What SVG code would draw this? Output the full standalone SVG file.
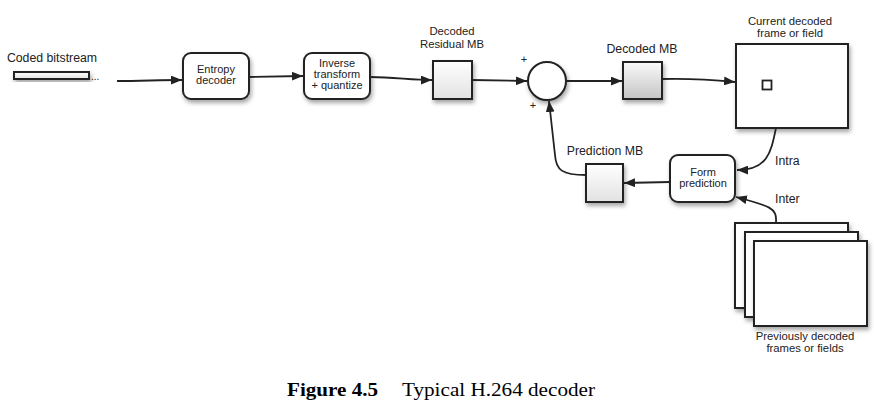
<svg xmlns="http://www.w3.org/2000/svg" width="874" height="419" viewBox="0 0 874 419">
<defs>
<style>
.lbl{font-family:"Liberation Sans",Arial,sans-serif;font-size:12.3px;fill:#222;text-anchor:middle}
.lbl2{font-family:"Liberation Sans",Arial,sans-serif;font-size:11.3px;fill:#222;text-anchor:middle}
.in{font-family:"Liberation Sans",Arial,sans-serif;font-size:11px;fill:#222;text-anchor:middle}
.box{fill:#fff;stroke:#222;stroke-width:2;filter:url(#sh)}
.con{fill:none;stroke:#222;stroke-width:1.8;marker-end:url(#ah)}
.cap{font-family:"Liberation Serif","Times New Roman",serif;font-size:18px;fill:#000}
</style>
<filter id="sh" x="-20%" y="-20%" width="150%" height="150%">
<feDropShadow dx="1.5" dy="3" stdDeviation="2" flood-color="#000" flood-opacity="0.35"/>
</filter>
<linearGradient id="g1" x1="0" y1="0" x2="0" y2="1">
<stop offset="0" stop-color="#fff"/><stop offset="1" stop-color="#e2e2e2"/>
</linearGradient>
<linearGradient id="g2" x1="0" y1="0" x2="0" y2="1">
<stop offset="0" stop-color="#fafafa"/><stop offset="1" stop-color="#c4c4c4"/>
</linearGradient>
<marker id="ah" viewBox="0 0 10 8" refX="10" refY="4" markerWidth="11" markerHeight="9" markerUnits="userSpaceOnUse" orient="auto">
<path d="M0,0 L10,4 L0,8 Z" fill="#222"/>
</marker>
</defs>
<rect width="874" height="419" fill="#fff"/>

<g id="bitstream">
<text class="lbl" x="52" y="62">Coded bitstream</text>
<rect class="box" x="14" y="72" width="75" height="7" style="fill:url(#g1)"/>
<text x="91" y="80" style="font-family:'Liberation Sans',Arial,sans-serif;font-size:10px;fill:#222">...</text>
</g>

<g id="entropy">
<rect class="box" x="183" y="53" width="66" height="46" rx="8"/>
<text class="in" x="216" y="73">Entropy</text>
<text class="in" x="216" y="84">decoder</text>
</g>

<g id="inverse">
<rect class="box" x="304" y="53" width="66" height="46" rx="8"/>
<text class="in" x="337" y="67">Inverse</text>
<text class="in" x="337" y="78">transform</text>
<text class="in" x="337" y="89">+ quantize</text>
</g>

<g id="residual">
<text class="lbl2" x="452" y="35">Decoded</text>
<text class="lbl2" x="452" y="47.5">Residual MB</text>
<rect class="box" x="433" y="61" width="39" height="38" style="fill:url(#g1)"/>
</g>

<g id="sum">
<circle class="box" cx="547" cy="81" r="19"/>
<text x="524" y="63" class="in">+</text>
<text x="533" y="109" class="in">+</text>
</g>

<g id="decodedmb">
<text class="lbl" x="642" y="53">Decoded MB</text>
<rect class="box" x="623" y="62" width="39" height="37" style="fill:url(#g2)"/>
</g>

<g id="current">
<text class="lbl2" x="790" y="24.5">Current decoded</text>
<text class="lbl2" x="790" y="37">frame or field</text>
<rect class="box" x="736" y="44" width="112" height="84"/>
<rect x="762.5" y="80.5" width="9" height="9" fill="#fff" stroke="#222" stroke-width="1.8"/>
</g>

<g id="form">
<rect class="box" x="670" y="155" width="65" height="47" rx="8"/>
<text class="in" x="703" y="176">Form</text>
<text class="in" x="703" y="187">prediction</text>
</g>

<g id="predmb">
<text class="lbl" x="605" y="155">Prediction MB</text>
<rect class="box" x="586" y="164" width="37" height="38" style="fill:url(#g1)"/>
</g>

<g id="previous">
<rect class="box" x="735" y="223" width="113" height="85"/>
<rect class="box" x="745" y="232" width="113" height="85"/>
<rect class="box" x="754" y="241" width="113" height="85"/>
<text class="lbl2" x="805" y="339.5">Previously decoded</text>
<text class="lbl2" x="805" y="352">frames or fields</text>
</g>

<g id="connectors">
<path class="con" d="M117,81 C140,81 160,80 182,80"/>
<path class="con" d="M249,77 L303,76"/>
<path class="con" d="M370,77 C395,77 410,80 432,80"/>
<path class="con" d="M472,80 L527,81"/>
<path class="con" d="M566,81 L622,81"/>
<path class="con" d="M662,79 C695,78 715,80 735,82"/>
<path class="con" d="M776,128 C771,152 768,170 737,170"/>
<path class="con" d="M670,182 L624,183"/>
<path class="con" d="M586,175 C562,175 556,170 555,155 L549,101"/>
<path class="con" d="M776,222 C777,208 770,206 736,197"/>
<text class="lbl" x="775" y="165" style="text-anchor:start">Intra</text>
<text class="lbl" x="775" y="203" style="text-anchor:start">Inter</text>
</g>

<g id="caption">
<text class="cap" x="287" y="396" style="font-weight:bold" textLength="91" lengthAdjust="spacingAndGlyphs">Figure 4.5</text>
<text class="cap" x="402" y="396" textLength="193" lengthAdjust="spacingAndGlyphs">Typical H.264 decoder</text>
</g>
</svg>
